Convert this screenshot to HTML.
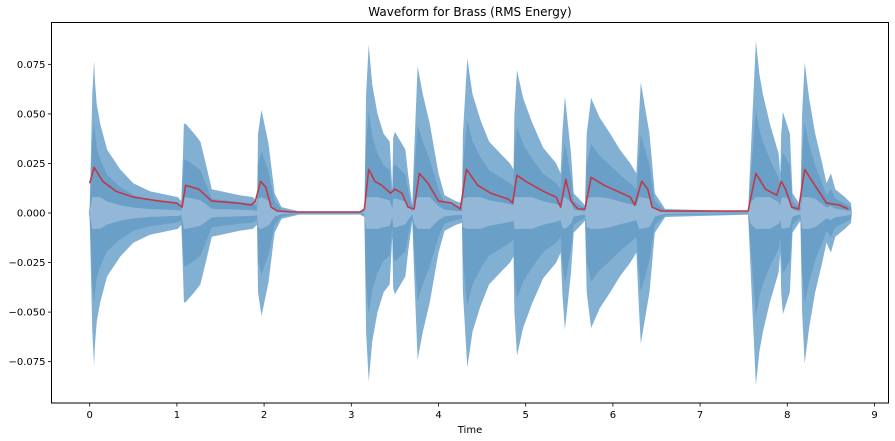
<!DOCTYPE html>
<html><head><meta charset="utf-8"><style>
body{margin:0;background:#fff;font-family:"DejaVu Sans","Liberation Sans",sans-serif}
svg{display:block}
</style></head><body>
<svg id="chart" width="895" height="441" xmlns="http://www.w3.org/2000/svg"></svg>
<script>
const envTimes=[-0.01,0,0.03,0.05,0.06,0.08,0.12,0.2,0.35,0.5,0.69,1.01,1.05,1.07,1.08,1.1,1.2,1.27,1.33,1.4,1.72,1.87,1.92,1.93,1.97,2.05,2.12,2.2,2.4,3.1,3.15,3.17,3.2,3.24,3.3,3.37,3.44,3.46,3.47,3.48,3.5,3.62,3.65,3.7,3.72,3.76,3.82,3.9,4.0,4.07,4.2,4.27,4.28,4.33,4.39,4.48,4.58,4.71,4.82,4.86,4.87,4.9,4.97,5.07,5.2,5.35,5.4,5.42,5.45,5.52,5.55,5.68,5.7,5.75,5.85,5.97,6.08,6.2,6.27,6.3,6.32,6.42,6.48,6.6,7.55,7.58,7.64,7.68,7.72,7.8,7.9,7.92,7.93,7.95,8.03,8.06,8.15,8.17,8.2,8.25,8.32,8.4,8.45,8.5,8.55,8.66,8.73,8.74];
const envAmps=[0,0.003,0.06,0.077,0.067,0.055,0.045,0.032,0.022,0.015,0.011,0.008,0.006,0.03,0.045,0.045,0.040,0.036,0.025,0.012,0.009,0.008,0.006,0.04,0.052,0.035,0.01,0.003,0.0008,0.0008,0.002,0.06,0.085,0.065,0.05,0.04,0.036,0.02,0.012,0.038,0.041,0.032,0.02,0.004,0.03,0.074,0.06,0.045,0.02,0.009,0.006,0.005,0.04,0.078,0.06,0.047,0.036,0.03,0.025,0.022,0.05,0.072,0.058,0.046,0.033,0.025,0.02,0.04,0.059,0.03,0.01,0.004,0.04,0.058,0.048,0.04,0.032,0.025,0.02,0.05,0.066,0.04,0.01,0.002,0.0008,0.03,0.087,0.07,0.06,0.045,0.03,0.02,0.04,0.051,0.04,0.01,0.004,0.05,0.076,0.058,0.04,0.025,0.015,0.02,0.012,0.008,0.005,0];
const rmsTimes=[0,0.05,0.15,0.3,0.5,0.8,1.0,1.06,1.1,1.25,1.4,1.7,1.85,1.9,1.96,2.02,2.08,2.15,2.3,3.1,3.15,3.2,3.27,3.35,3.45,3.5,3.58,3.65,3.72,3.78,3.88,4.0,4.15,4.25,4.32,4.45,4.6,4.8,4.85,4.9,5.0,5.2,5.35,5.4,5.46,5.52,5.6,5.68,5.75,5.9,6.05,6.2,6.25,6.33,6.4,6.45,6.55,7.55,7.64,7.75,7.88,7.93,7.98,8.05,8.13,8.2,8.3,8.45,8.6,8.7];
const rmsVals=[0.015,0.023,0.016,0.011,0.008,0.006,0.005,0.003,0.014,0.012,0.006,0.005,0.004,0.006,0.016,0.013,0.003,0.001,0.0005,0.0005,0.002,0.022,0.016,0.014,0.010,0.012,0.010,0.003,0.002,0.020,0.015,0.006,0.005,0.002,0.022,0.014,0.010,0.007,0.005,0.019,0.016,0.011,0.008,0.003,0.017,0.006,0.002,0.002,0.018,0.014,0.011,0.008,0.004,0.016,0.012,0.003,0.001,0.001,0.020,0.012,0.009,0.016,0.012,0.003,0.002,0.022,0.015,0.005,0.004,0.002];
const xTicks=[0,1,2,3,4,5,6,7,8,9];
const yTicks=[0.075,0.05,0.025,0,-0.025,-0.05,-0.075];
const yTickLabels=["0.075","0.050","0.025","0.000","\u22120.025","\u22120.050","\u22120.075"];

const L=51.5,R=888.5,T=22.5,B=403;
const x=t=>89.7+t*87.2;
const y=a=>213-a*1982;
const svg=document.getElementById('chart');
const NS='http://www.w3.org/2000/svg';
function mk(tag,attrs,parent){const e=document.createElementNS(NS,tag);for(const k in attrs)e.setAttribute(k,attrs[k]);(parent||svg).appendChild(e);return e;}

function envPath(scale,cap){
  let up=[],dn=[];
  for(let i=0;i<envTimes.length;i++){let a=Math.min(envAmps[i]*scale,cap);up.push(x(envTimes[i]).toFixed(1)+','+y(a).toFixed(1));dn.unshift(x(envTimes[i]).toFixed(1)+','+y(-a).toFixed(1));}
  return 'M'+up.join('L')+'L'+dn.join('L')+'Z';
}
const g=mk('g',{});


const p1=mk('path',{d:envPath(1,1),fill:'#82b0d3'},g);


const p2=mk('path',{d:envPath(0.6,1),fill:'#6a9fc8'},g);


const p3=mk('path',{d:envPath(0.18,0.008),fill:'#93b8d7'},g);



const rl=mk('polyline',{points:rmsTimes.map((t,i)=>x(t).toFixed(1)+','+y(rmsVals[i]).toFixed(1)).join(' '),fill:'none',stroke:'#c0394a','stroke-width':1.6,'stroke-linejoin':'round'});



const frame=mk('rect',{x:L,y:T,width:R-L,height:B-T,fill:'none',stroke:'#000','stroke-width':1});



xTicks.forEach(t=>{
  const X=x(t);
  mk('line',{x1:X,x2:X,y1:B,y2:B+3.5,stroke:'#000','stroke-width':0.8});
  const tx=mk('text',{x:X,y:B+15,'font-size':10,'text-anchor':'middle',fill:'#000'});
  tx.textContent=t;
  
  
});
yTicks.forEach((v,i)=>{
  const Y=y(v);
  mk('line',{x1:L-3.5,x2:L,y1:Y,y2:Y,stroke:'#000','stroke-width':0.8});
  const tx=mk('text',{x:L-6,y:Y+3.5,'font-size':10,'text-anchor':'end',fill:'#000'});
  tx.textContent=yTickLabels[i];
  
  
});
const title=mk('text',{x:470,y:16,'font-size':12,'text-anchor':'middle',fill:'#000'});
title.textContent='Waveform for Brass (RMS Energy)';


const xl=mk('text',{x:470,y:433,'font-size':10,'text-anchor':'middle',fill:'#000'});
xl.textContent='Time';


</script>
</body></html>
